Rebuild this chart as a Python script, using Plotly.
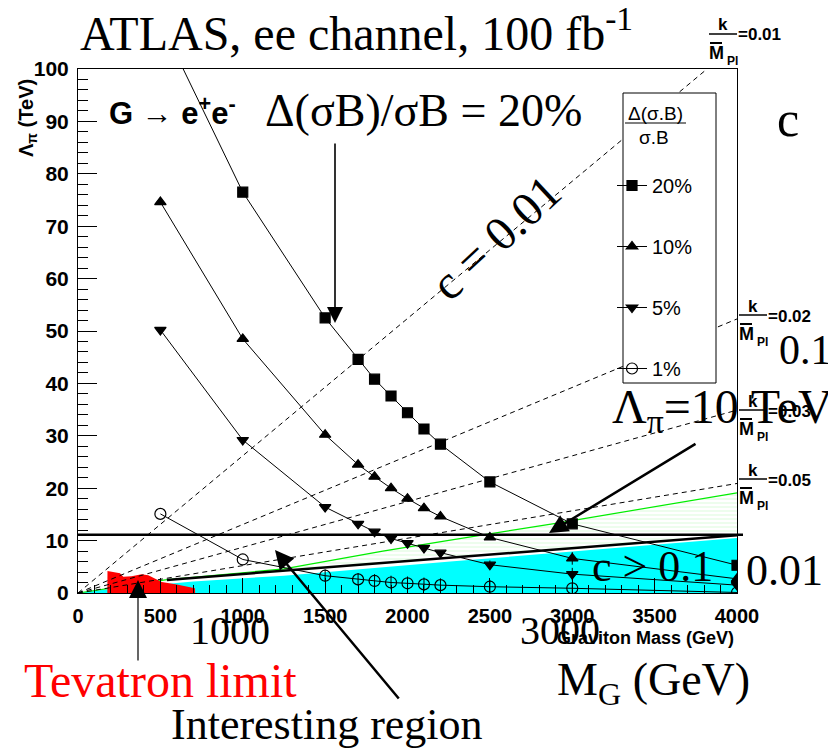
import plotly.graph_objects as go

# ---------------- data ----------------
mass = [500, 1000, 1500, 1700, 1800, 1900, 2000, 2100, 2200, 2500, 3000, 4000]
lam_20 = [109.0, 76.5, 52.5, 44.6, 40.8, 37.6, 34.4, 31.3, 28.4, 21.2, 13.2, 5.3]
lam_10 = [74.6, 48.5, 30.2, 24.5, 22.2, 20.0, 18.0, 16.2, 14.6, 10.6, 6.6, 2.7]
lam_5 = [50.2, 29.2, 16.4, 13.2, 11.7, 10.4, 9.5, 8.6, 7.7, 5.4, 3.6, 1.5]
lam_1 = [15.1, 6.4, 3.3, 2.6, 2.3, 2.0, 1.85, 1.65, 1.5, 1.2, 0.9, 0.1]
err_1 = [0, 0, 1.2, 1.2, 1.3, 1.3, 1.3, 1.3, 1.3, 1.3, 1.0, 0]
err_10 = [0, 0, 0, 0, 0, 0, 0, 0, 0, 0, 1.2, 0.5]
err_5 = [0, 0, 0, 0, 0, 0, 0, 0, 0, 0.8, 1.2, 0.5]
series_names = ["20%", "10%", "5%", "1%"]

# k/M_Pl = const lines (from origin)
kmpl_labels = ["0.01", "0.02", "0.03", "0.05"]
kmpl_end_mass = [3818, 4000, 4000, 4000]
kmpl_end_lam = [100.0, 52.3, 34.9, 20.9]

# Tevatron excluded region
tev_mass = [178, 179, 255, 275, 326, 386, 427, 477, 508, 600, 700, 710, 711]
tev_lam = [0, 4.2, 3.75, 3.1, 3.2, 3.6, 3.4, 2.5, 2.1, 1.6, 0.9, 0.9, 0]

# cyan region (c > 0.1)
cyan_mass = [0, 180, 700, 1250, 2260, 4000]
cyan_lam = [0, 0.7, 2.2, 3.3, 6.0, 10.5]

# green curve
green_mass = [0, 176, 530, 1250, 1850, 2260, 2900, 4000]
green_lam = [0, 0.8, 2.5, 4.6, 8.0, 10.1, 13.3, 19.1]

# thick c = 0.1 line and Lambda_pi limit line
c01_mass = [540, 4000]
c01_lam = [2.5, 11.0]
lam_limit = 11.1

# ---------------- geometry helpers ----------------
L, R, T, B = 78, 737, 69, 593
W, H = 828, 749


def PX(px):
    return (px - L) / (R - L)


def PY(py):
    return (B - py) / (B - T)


SERIF = "Times New Roman, Liberation Serif, serif"
SANS = "Arial, Liberation Sans, sans-serif"

fig = go.Figure()

# cyan region
fig.add_trace(go.Scatter(x=cyan_mass, y=cyan_lam, mode="lines", fill="tozeroy",
                         fillcolor="#00FFFF", line=dict(width=0, color="#00FFFF"),
                         showlegend=False, hoverinfo="skip"))
# hatched region between c=0.1 line and green curve
fig.add_trace(go.Scatter(x=c01_mass, y=c01_lam, mode="lines",
                         line=dict(width=0, color="rgba(0,0,0,0)"),
                         showlegend=False, hoverinfo="skip"))
fig.add_trace(go.Scatter(x=green_mass[2:], y=green_lam[2:], mode="lines", fill="tonexty",
                         fillcolor="rgba(0,0,0,0)",
                         fillpattern=dict(shape="-", fgcolor="rgba(0,220,0,0.35)",
                                          bgcolor="rgba(255,255,255,0)", size=4, solidity=0.2),
                         line=dict(width=0, color="rgba(0,0,0,0)"),
                         showlegend=False, hoverinfo="skip"))
# green curve
fig.add_trace(go.Scatter(x=green_mass, y=green_lam, mode="lines",
                         line=dict(width=1.2, color="#00EE00"),
                         showlegend=False, hoverinfo="skip"))
# Tevatron limit
fig.add_trace(go.Scatter(x=tev_mass, y=tev_lam, mode="lines", fill="tozeroy",
                         fillcolor="#FF0000", line=dict(width=0, color="#FF0000"),
                         showlegend=False, hoverinfo="skip"))
# dashed k/M_Pl lines
for xm, ym in zip(kmpl_end_mass, kmpl_end_lam):
    fig.add_trace(go.Scatter(x=[0, xm], y=[0, ym], mode="lines",
                             line=dict(width=1, color="black", dash="5px,4px"),
                             showlegend=False, hoverinfo="skip"))
# thick c=0.1 line
fig.add_trace(go.Scatter(x=c01_mass, y=c01_lam, mode="lines",
                         line=dict(width=2.5, color="black"),
                         showlegend=False, hoverinfo="skip"))

# measurement curves
symbols = ["square", "triangle-up", "triangle-down", "circle-open"]
sizes = [10, 10, 10, 11]
values = [lam_20, lam_10, lam_5, lam_1]
errs = [None, err_10, err_5, err_1]
for i, (nm, sym, sz, v, e) in enumerate(zip(series_names, symbols, sizes, values, errs)):
    fig.add_trace(go.Scatter(
        x=mass, y=v, mode="lines+markers", name=nm, legendgroup=nm,
        line=dict(width=1, color="black"),
        marker=dict(symbol=sym, size=sz, color="black", line=dict(width=1.2, color="black")),
        error_y=(dict(type="data", array=e, visible=True, color="black", thickness=1, width=0)
                 if e is not None else None),
    ))

shapes = []
ann = []

# horizontal Lambda_pi limit line (extends slightly past frame)
shapes.append(dict(type="line", xref="paper", yref="y", x0=0, x1=PX(743), y0=lam_limit, y1=lam_limit,
                   line=dict(color="black", width=2.5), layer="above"))

# legend box
shapes.append(dict(type="rect", xref="paper", yref="paper", x0=PX(623), x1=PX(716), y0=PY(383), y1=PY(93),
                   fillcolor="white", line=dict(color="black", width=1), layer="above"))
shapes.append(dict(type="line", xref="paper", yref="paper", x0=PX(625), x1=PX(686), y0=PY(123), y1=PY(123),
                   line=dict(color="black", width=1.2), layer="above"))
ann.append(dict(text="Δ(σ.B)", x=PX(655), y=PY(113), font=dict(family=SANS, size=19, color="black")))
ann.append(dict(text="σ.B", x=PX(654), y=PY(137), font=dict(family=SANS, size=19, color="black")))

# k/M_Pl labels
label_bars = [(723, 34), (753, 315), (753, 410), (753, 479)]
for lab, (bx, by) in zip(kmpl_labels, label_bars):
    shapes.append(dict(type="line", xref="paper", yref="paper", x0=PX(bx - 14), x1=PX(bx + 14),
                       y0=PY(by), y1=PY(by), line=dict(color="black", width=1.5)))
    shapes.append(dict(type="line", xref="paper", yref="paper", x0=PX(bx - 13), x1=PX(bx - 1),
                       y0=PY(by + 9), y1=PY(by + 9), line=dict(color="black", width=2)))
    ann.append(dict(text="<b>k</b>", x=PX(bx), y=PY(by - 9), font=dict(family=SANS, size=17, color="black")))
    ann.append(dict(text="<b>M</b>", x=PX(bx - 7), y=PY(by + 19), font=dict(family=SANS, size=18, color="black")))
    ann.append(dict(text="<b>Pl</b>", x=PX(bx + 9), y=PY(by + 27), font=dict(family=SANS, size=12, color="black")))
    ann.append(dict(text="<b>=" + lab + "</b>", x=PX(bx + 13), y=PY(by + 1), xanchor="left",
                    font=dict(family=SANS, size=17, color="black")))

# axis titles
ann.append(dict(text="<b>Λ<sub>π</sub> (TeV)</b>", x=PX(27), y=PY(118), textangle=-90,
                font=dict(family=SANS, size=20, color="black")))
ann.append(dict(text="<b>Graviton Mass (GeV)</b>", x=PX(736), y=PY(638), xanchor="right",
                font=dict(family=SANS, size=18, color="black")))

# ROOT-like plot text
ann.append(dict(text="<b>G → e<sup>+</sup>e<sup>-</sup></b>", x=PX(107), y=PY(111), xanchor="left",
                font=dict(family=SANS, size=31, color="black")))


# slide overlay texts
def stext(t, x, y, size, anchor="center", color="black", angle=0):
    ann.append(dict(text=t, x=PX(x), y=PY(y), xanchor=anchor, textangle=angle,
                    font=dict(family=SERIF, size=size, color=color)))


stext("ATLAS, ee channel, 100 fb<sup>-1</sup>", 78, 30, 48, "left")
stext("Δ(σB)/σB = 20%", 263, 110, 46, "left")
stext("c = 0.01", 496, 238, 48, angle=-43)
stext("c", 788, 119, 50)
stext("0.1", 805, 350, 42)
stext("Λ<sub>π</sub>=10 TeV", 610, 410, 48, "left")
stext("c > 0.1", 590, 566, 44, "left")
stext("0.01", 744, 570, 44, "left")
stext("1000", 230, 630, 40)
stext("3000", 560, 630, 40)
stext("Tevatron limit", 160, 680, 48, color="#FF0000")
stext("M<sub>G</sub> (GeV)", 653, 683, 46)
stext("Interesting region", 327, 724, 44)


# arrows (tip, tail) in pixels
def arrow(tip, tail, width, size):
    ann.append(dict(text="", x=PX(tip[0]), y=PY(tip[1]), ax=tail[0] - tip[0], ay=tail[1] - tip[1],
                    showarrow=True, arrowhead=2, arrowwidth=width, arrowsize=size, arrowcolor="black"))


arrow((335, 323), (335, 142), 1.6, 2.0)
arrow((138, 580), (138, 662), 1.2, 3.0)
arrow((275, 550), (400, 700), 2.5, 1.5)
arrow((549, 533), (697, 443), 2.5, 1.5)

for a in ann:
    a.setdefault("xref", "paper")
    a.setdefault("yref", "paper")
    a.setdefault("showarrow", False)
    a.setdefault("yanchor", "middle")
    a.setdefault("xanchor", "center")

fig.update_layout(
    width=W, height=H,
    margin=dict(l=L, r=W - R, t=T, b=H - B, pad=0),
    paper_bgcolor="white", plot_bgcolor="white",
    shapes=shapes, annotations=ann,
    legend=dict(x=PX(612), y=PY(166), xanchor="left", yanchor="top",
                bgcolor="rgba(0,0,0,0)", borderwidth=0, tracegroupgap=32,
                font=dict(family=SANS, size=20, color="black")),
    xaxis=dict(range=[0, 4000], dtick=500, tick0=0, ticks="inside", ticklen=15, tickwidth=1,
               tickcolor="black", showgrid=False, zeroline=False, showline=True, linecolor="black",
               linewidth=1, mirror=True, ticklabelstandoff=5, tickprefix="<b>", ticksuffix="</b>",
               tickfont=dict(family=SANS, size=20, color="black"),
               minor=dict(dtick=100, ticks="inside", ticklen=8, tickcolor="black", showgrid=False)),
    yaxis=dict(range=[0, 100], dtick=10, tick0=0, ticks="inside", ticklen=19, tickwidth=1,
               tickcolor="black", showgrid=False, zeroline=False, showline=True, linecolor="black",
               linewidth=1, mirror=True, ticklabelstandoff=4, tickprefix="<b>", ticksuffix="</b>",
               tickfont=dict(family=SANS, size=21, color="black"),
               minor=dict(dtick=2, ticks="inside", ticklen=10, tickcolor="black", showgrid=False)),
)

fig.write_html("out.html")
